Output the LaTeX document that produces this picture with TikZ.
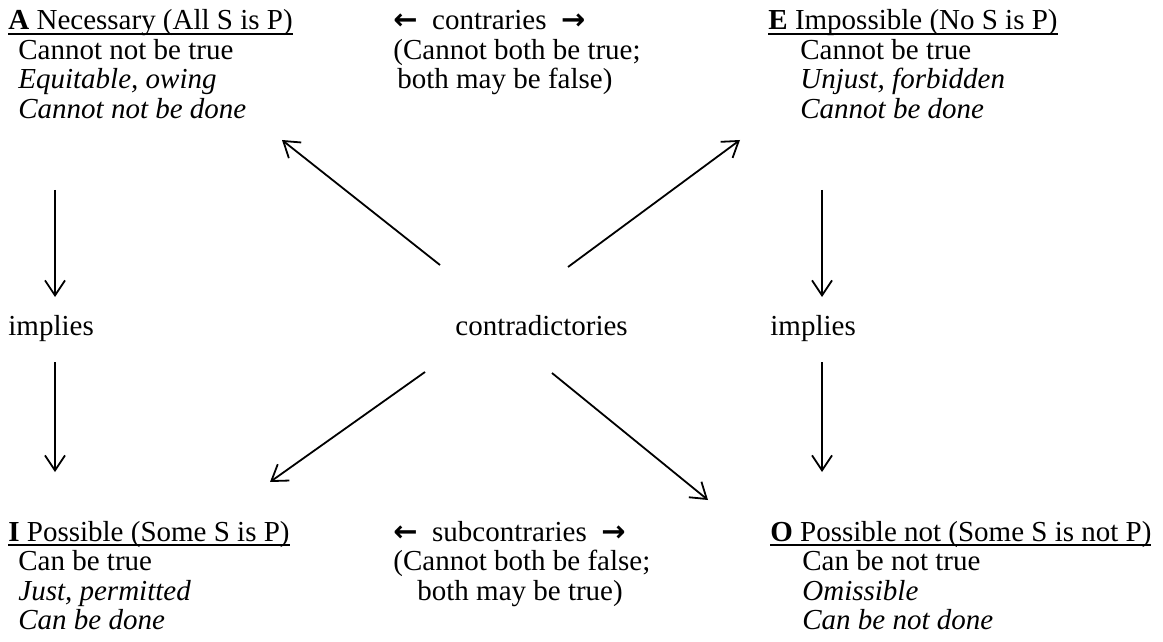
\documentclass[tikz,border=0pt]{standalone}
\usepackage{fontspec}
\setmainfont{Liberation Serif}
\newfontfamily\arrowfont{DejaVu Sans}
\usetikzlibrary{arrows.meta}
\newsavebox{\hdbox}
\newcommand{\hd}[2]{\sbox{\hdbox}{\textbf{#1} #2}%
  \rlap{\rule[-2.3pt]{\wd\hdbox}{0.9pt}}\usebox{\hdbox}}
\newcommand{\lft}{{\arrowfont\bfseries ←}}
\newcommand{\rgt}{{\arrowfont\bfseries →}}

\begin{document}
\begin{tikzpicture}[x=0.5pt,y=-0.5pt,
  txt/.style={anchor=base west, inner sep=0pt, align=left,
    font=\fontsize{14.5}{14.75}\selectfont},
  arr/.style={-{Straight Barb[length=7.5pt,width=10pt]}, line width=0.9pt}]
  \useasboundingbox (0,0) rectangle (1163,642);
  % the four corners (placed by the baseline of their last line)
  \node[txt] (A) at (8,118.5) {\hd{A}{Necessary (All S is P)}\\
    \hspace*{5pt}Cannot not be true\\
    \hspace*{5pt}\textit{Equitable, owing}\\
    \hspace*{5pt}\textit{Cannot not be done}};
  \node[txt] (E) at (768,118.5) {\hd{E}{Impossible (No S is P)}\\
    \hspace*{16pt}Cannot be true\\
    \hspace*{16pt}\textit{Unjust, forbidden}\\
    \hspace*{16pt}\textit{Cannot be done}};
  \node[txt] (I) at (8,629.5) {\hd{I}{Possible (Some S is P)}\\
    \hspace*{5pt}Can be true\\
    \hspace*{5pt}\textit{Just, permitted}\\
    \hspace*{5pt}\textit{Can be done}};
  \node[txt] (O) at (770,629.5) {\hd{O}{Possible not (Some S is not P)}\\
    \hspace*{16pt}Can be not true\\
    \hspace*{16pt}\textit{Omissible}\\
    \hspace*{16pt}\textit{Can be not done}};
  % middle texts
  \node[txt] (contr) at (393,89) {\lft\ \ contraries\ \ \rgt\\
    (Cannot both be true;\\
    \hspace*{2pt}both may be false)};
  \node[txt] (subc) at (393,600) {\lft\ \ subcontraries\ \ \rgt\\
    (Cannot both be false;\\
    \hspace*{12pt}both may be true)};
  \node[txt] (impL) at (8,335) {implies};
  \node[txt] (impR) at (770,335) {implies};
  \node[txt] (contra) at (455,335) {contradictories};
  % arrow ends
  \coordinate (aT) at (55,190);  \coordinate (aH) at (55,297);
  \coordinate (iT) at (55,362);  \coordinate (iH) at (55,472);
  \coordinate (eT) at (822,190); \coordinate (eH) at (822,297);
  \coordinate (oT) at (822,362); \coordinate (oH) at (822,472);
  \coordinate (cA) at (440,265); \coordinate (hA) at (282,140);
  \coordinate (cE) at (568,267); \coordinate (hE) at (740,140);
  \coordinate (cI) at (425,372); \coordinate (hI) at (270,482);
  \coordinate (cO) at (552,373); \coordinate (hO) at (708,500);
  \draw[arr] (aT) -- (aH);
  \draw[arr] (iT) -- (iH);
  \draw[arr] (eT) -- (eH);
  \draw[arr] (oT) -- (oH);
  \draw[arr] (cA) -- (hA);
  \draw[arr] (cE) -- (hE);
  \draw[arr] (cI) -- (hI);
  \draw[arr] (cO) -- (hO);
\end{tikzpicture}
\end{document}
